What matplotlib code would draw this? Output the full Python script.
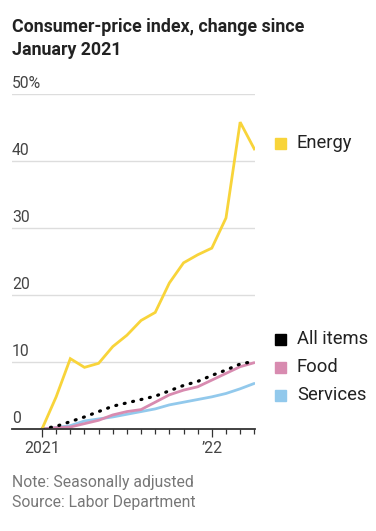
import numpy as np
import matplotlib.pyplot as plt
from matplotlib.patches import Rectangle

# months from Jan 2021 to Apr 2022
months = ["Jan 2021", "Feb", "Mar", "Apr", "May", "Jun", "Jul", "Aug", "Sep", "Oct",
          "Nov", "Dec", "Jan 2022", "Feb", "Mar", "Apr"]
energy = [0, 4.8, 10.5, 9.2, 9.8, 12.3, 14.0, 16.2, 17.4, 21.8, 24.8, 26.0, 27.0, 31.5, 45.8, 41.8]
all_items = [0, 0.4, 1.1, 1.8, 2.6, 3.4, 3.9, 4.4, 4.9, 5.7, 6.5, 7.1, 8.0, 8.8, 9.7, 10.1]
food = [0, 0.2, 0.3, 0.8, 1.3, 2.1, 2.6, 2.9, 4.0, 5.1, 5.8, 6.3, 7.3, 8.3, 9.3, 9.9]
services = [0, 0.2, 0.5, 1.2, 1.5, 1.8, 2.2, 2.6, 3.0, 3.6, 4.0, 4.4, 4.8, 5.3, 6.0, 6.8]

y_ticks = [0, 10, 20, 30, 40, 50]
y_labels = ["0", "10", "20", "30", "40", "50%"]
x_tick_text = {0: "2021", 12: "\u201922"}

legend_items = [("Energy", "#f8d43a"), ("All items", "#000000"),
                ("Food", "#d88bb0"), ("Services", "#92c9ec")]

plt.rcParams['font.family'] = ['Roboto', 'DejaVu Sans']

W, H = 376, 531
fig = plt.figure(figsize=(W / 100, H / 100), dpi=100)
ax = fig.add_axes([12 / W, 1 - 429 / H, (255 - 12) / W, (429 - 94) / H])

x = np.arange(len(months))
ax.plot(x, services, color="#92c9ec", lw=2, solid_capstyle="round", zorder=3)
ax.plot(x, food, color="#d88bb0", lw=2, solid_capstyle="round", zorder=4)
ax.plot(x, all_items, color="black", lw=2.3, linestyle=(0, (0.3, 2.4)),
        dash_capstyle="round", zorder=5)
ax.plot(x, energy, color="#f8d43a", lw=2, solid_joinstyle="miter", zorder=6)

ax.set_xlim(-2.12, 15.05)
ax.set_ylim(0, 50)

for t in y_ticks[1:]:
    ax.axhline(t, color="#dddddd", lw=1, zorder=1)
for t, lab in zip(y_ticks, y_labels):
    ax.text(-2.12, t + 0.45, lab, fontsize=11.3, color="#444444", ha="left", va="bottom")
ax.axhline(0, color="#333333", lw=1.3, zorder=7, clip_on=False)

ax.set_yticks([])
ax.set_xticks(x)
ax.set_xticklabels([x_tick_text.get(i, "") for i in x], fontsize=11.3, color="#444444")
ax.tick_params(axis="x", length=3.5, width=0.9, color="#333333", direction="out", pad=5)
for i in x_tick_text:
    ax.xaxis.get_major_ticks()[i].tick1line.set_markersize(6)
for s in ax.spines.values():
    s.set_visible(False)

fig.text(12 / W, 1 - 32 / H, "Consumer-price index, change since",
         fontsize=12.8, fontweight="bold", color="#222222", ha="left", va="baseline")
fig.text(12 / W, 1 - 55 / H, "January 2021",
         fontsize=12.8, fontweight="bold", color="#222222", ha="left", va="baseline")

legend_y = [143, 339, 367, 395]
for (name, col), ly in zip(legend_items, legend_y):
    fig.patches.append(Rectangle((275 / W, 1 - (ly + 6) / H), 11 / W, 11 / H,
                                 transform=fig.transFigure, color=col, figure=fig))
    fig.text(297 / W, 1 - ly / H, name, fontsize=13.2, color="#222222", ha="left",
             va="center")

fig.text(12 / W, 1 - 482 / H, "Note: Seasonally adjusted", fontsize=11.3, color="#777777",
         ha="left", va="center")
fig.text(12 / W, 1 - 503 / H, "Source: Labor Department", fontsize=11.3, color="#777777",
         ha="left", va="center")

fig.savefig("out.png", dpi=100)
